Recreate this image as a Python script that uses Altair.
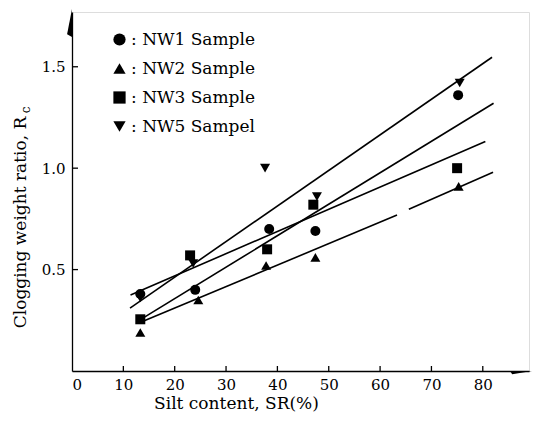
import altair as alt
import pandas as pd

# ---------------- data ----------------
series = ["NW1 Sample", "NW2 Sample", "NW3 Sample", "NW5 Sampel"]
shapes = ["circle", "triangle-up", "square", "triangle-down"]

nw1_x = [13.3, 24.0, 38.4, 47.4, 75.2]
nw1_y = [0.38, 0.40, 0.70, 0.69, 1.36]
nw2_x = [13.3, 24.6, 37.8, 47.4, 75.3]
nw2_y = [0.19, 0.35, 0.52, 0.56, 0.91]
nw3_x = [13.3, 23.0, 38.0, 47.0, 75.0]
nw3_y = [0.255, 0.57, 0.60, 0.82, 1.00]
nw5_x = [13.3, 23.6, 37.6, 47.7, 75.5]
nw5_y = [0.36, 0.53, 1.00, 0.86, 1.42]

# fitted lines (end points); the lowest line is drawn with a small gap
line_id = ["A", "A", "B", "B", "C", "C", "D1", "D1", "D2", "D2"]
line_x = [11.3, 81.8, 12.6, 82.1, 11.4, 80.5, 12.9, 63.3, 65.6, 82.0]
line_y = [0.31, 1.547, 0.242, 1.32, 0.375, 1.131, 0.235, 0.769, 0.797, 0.98]

x_labels = [0, 10, 20, 30, 40, 50, 60, 70, 80]
x_ticks = [10, 20, 30, 40, 50, 60, 70, 80]
y_ticks = [0.5, 1.0, 1.5]

# ---------------- layout ----------------
W, H = 457, 359
XMAX, YMAX = 89, 1.77
FONT = "DejaVu Serif"

rows = []
for name, xs, ys in zip(series, [nw1_x, nw2_x, nw3_x, nw5_x], [nw1_y, nw2_y, nw3_y, nw5_y]):
    for a, b in zip(xs, ys):
        rows.append({"series": name, "x": a, "y": b})
pts = pd.DataFrame(rows)
lines = pd.DataFrame({"id": line_id, "x": line_x, "y": line_y})

xs = alt.Scale(domain=[0, XMAX], nice=False, zero=False)
ys = alt.Scale(domain=[0, YMAX], nice=False, zero=False)

x_axis = alt.Axis(
    values=x_labels, ticks=False, tickSize=0, grid=False, domainColor="black",
    domainWidth=1.3, labelFont=FONT, labelFontSize=15, labelColor="black",
    labelPadding=6, title="Silt content, SR(%)", titleFont=FONT, titleFontSize=17,
    titleFontWeight="normal", titleColor="black", titleX=164, titleY=32,
    titleBaseline="middle", titleAlign="center",
)
y_axis = alt.Axis(
    values=y_ticks, format=".1f", ticks=False, tickSize=0, grid=False,
    domainColor="black", domainWidth=1.3, labelFont=FONT, labelFontSize=15,
    labelColor="black", labelPadding=7, title="Clogging weight ratio, R",
    titleFont=FONT, titleFontSize=17, titleFontWeight="normal", titleColor="black",
    titleAngle=270, titleX=-52, titleY=210, titleBaseline="middle", titleAlign="center",
)

line_layer = alt.Chart(lines).mark_line(color="black", strokeWidth=1.6).encode(
    x=alt.X("x:Q", scale=xs, axis=x_axis),
    y=alt.Y("y:Q", scale=ys, axis=y_axis),
    detail="id:N",
)

point_layer = alt.Chart(pts).mark_point(filled=True, opacity=1, size=100).encode(
    x=alt.X("x:Q", scale=xs),
    y=alt.Y("y:Q", scale=ys),
    shape=alt.Shape(
        "series:N",
        scale=alt.Scale(domain=series, range=shapes),
        legend=alt.Legend(
            orient="none", legendX=39, legendY=19, title=None,
            labelFont=FONT, labelFontSize=17, labelColor="black",
            labelExpr="': ' + datum.label", symbolSize=150, symbolFillColor="black",
            symbolStrokeColor="black", symbolStrokeWidth=0, rowPadding=11,
            labelOffset=3, padding=0,
        ),
    ),
    color=alt.value("black"),
)

xt = alt.Chart(pd.DataFrame({"v": x_ticks})).mark_rule(color="black", strokeWidth=1.3).encode(
    x=alt.X("v:Q", scale=xs), y=alt.value(H), y2=alt.value(H - 5)
)
yt = alt.Chart(pd.DataFrame({"v": y_ticks})).mark_rule(color="black", strokeWidth=1.3).encode(
    y=alt.Y("v:Q", scale=ys), x=alt.value(0), x2=alt.value(6)
)

up_arrow = alt.Chart().mark_point(
    shape="M0,-1 L0,1 L-0.35,0.8 Z", filled=True, size=784, color="black", opacity=1
).encode(x=alt.value(0), y=alt.value(11))

right_arrow = alt.Chart().mark_point(
    shape="M1,0 L-1,0 L-0.8,0.3 Z", filled=True, size=484, color="black", opacity=1
).encode(x=alt.value(W - 8), y=alt.value(H))

sub_c = alt.Chart().mark_text(
    text="c", angle=270, font=FONT, fontSize=12, color="black"
).encode(x=alt.value(-46), y=alt.value(98))

chart = alt.layer(line_layer, point_layer, xt, yt, up_arrow, right_arrow, sub_c).properties(
    width=W, height=H,
    autosize=alt.AutoSizeParams(type="none"),
    padding={"left": 64, "top": 4, "right": 4, "bottom": 50},
).configure_view(stroke=None).configure(background="white")

chart.save("out.html", embed_options={"renderer": "svg", "actions": False})
